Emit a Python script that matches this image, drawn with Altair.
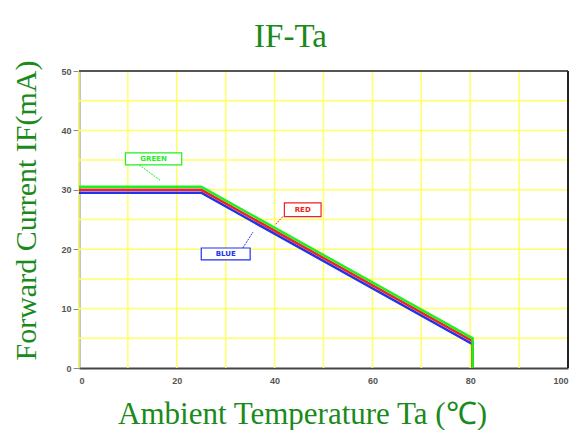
import altair as alt
import pandas as pd

# curve data (Ta in °C, IF in mA)
green_x = [0, 25, 80.5, 80.5]
green_y = [30.5, 30.5, 5.0, 0]
red_x = [0, 25, 80.5, 80.5]
red_y = [30.0, 30.0, 4.5, 0]
blue_x = [0, 25, 80.5, 80.5]
blue_y = [29.5, 29.5, 4.0, 0]

colors = {"GREEN": "#22ee22", "RED": "#ee2222", "BLUE": "#2233ee"}

rows = []
for name, xs_, ys_ in [("BLUE", blue_x, blue_y), ("RED", red_x, red_y), ("GREEN", green_x, green_y)]:
    for i, (a, b) in enumerate(zip(xs_, ys_)):
        rows.append({"series": name, "ta": a, "i": b, "order": i})
df = pd.DataFrame(rows)

# label boxes
lab_name = ["GREEN", "RED", "BLUE"]
lab_x1 = [9.5, 42.0, 25.0]
lab_x2 = [21.0, 49.5, 35.0]
lab_y1 = [34.2, 25.5, 18.2]
lab_y2 = [36.2, 27.8, 20.2]
ptr_x1 = [12.3, 41.7, 33.5]
ptr_y1 = [34.2, 25.5, 20.2]
ptr_x2 = [16.6, 40.2, 35.6]
ptr_y2 = [31.6, 24.2, 22.9]
labels = pd.DataFrame({
    "series": lab_name, "x1": lab_x1, "x2": lab_x2, "y1": lab_y1, "y2": lab_y2,
    "px1": ptr_x1, "py1": ptr_y1, "px2": ptr_x2, "py2": ptr_y2,
})
labels["xc"] = (labels.x1 + labels.x2) / 2
labels["yc"] = (labels.y1 + labels.y2) / 2

cscale = alt.Scale(domain=list(colors.keys()), range=list(colors.values()))

xs = alt.Scale(domain=[0, 100], nice=False)
ys = alt.Scale(domain=[0, 50], nice=False)

xaxis = alt.Axis(
    title="Ambient Temperature Ta (℃)", values=[0, 20, 40, 60, 80, 100],
    grid=False, tickSize=0, labelFontSize=9, labelFontWeight="bold", labelColor="#555555",
    titleFont="Liberation Serif", titleFontSize=31, titleFontWeight="normal", titleColor="#1a8a1a",
    titleX=223, titleY=55, titleAlign="center", titleBaseline="alphabetic",
    domainColor="#444444", domainWidth=2, labelPadding=8,
)
yaxis = alt.Axis(
    title="Forward Current IF(mA)", values=[0, 10, 20, 30, 40, 50],
    grid=False, tickSize=6, tickColor="#888888", labelFontSize=9, labelFontWeight="bold",
    labelColor="#555555", titleFont="Liberation Serif", titleFontSize=30,
    titleFontWeight="normal", titleColor="#1a8a1a",
    titleX=-44, titleY=139, titleAlign="center", titleBaseline="alphabetic",
    domainColor="#888888", domainWidth=2,
)

grid_x = pd.DataFrame({"v": [0, 10, 20, 30, 40, 50, 60, 70, 80, 90]})
grid_y = pd.DataFrame({"v": [5, 10, 15, 20, 25, 30, 35, 40, 45]})

gx = alt.Chart(grid_x).mark_rule(color="#ffff66", strokeWidth=1.5).encode(
    x=alt.X("v:Q", scale=xs, axis=xaxis))
gy = alt.Chart(grid_y).mark_rule(color="#ffff66", strokeWidth=1.5).encode(
    y=alt.Y("v:Q", scale=ys, axis=yaxis))

top_border = alt.Chart(pd.DataFrame({"v": [50]})).mark_rule(color="#555555", strokeWidth=2).encode(
    y=alt.Y("v:Q", scale=ys))
right_border = alt.Chart(pd.DataFrame({"v": [100]})).mark_rule(color="#222222", strokeWidth=2).encode(
    x=alt.X("v:Q", scale=xs))

lines = alt.Chart(df).mark_line(strokeWidth=2.5).encode(
    x=alt.X("ta:Q", scale=xs),
    y=alt.Y("i:Q", scale=ys),
    color=alt.Color("series:N", scale=cscale, legend=None),
    detail="series:N",
    order="order:Q",
)

boxes = alt.Chart(labels).mark_rect(fill="white", strokeWidth=1.2).encode(
    x="x1:Q", x2="x2:Q", y="y1:Q", y2="y2:Q",
    stroke=alt.Stroke("series:N", scale=cscale, legend=None),
)
ptrs = alt.Chart(labels).mark_rule(strokeWidth=1, strokeDash=[2, 1]).encode(
    x="px1:Q", y="py1:Q", x2="px2:Q", y2="py2:Q",
    color=alt.Color("series:N", scale=cscale, legend=None),
)
texts = alt.Chart(labels).mark_text(fontSize=7, fontWeight="bold", font="DejaVu Sans").encode(
    x="xc:Q", y="yc:Q", text="series:N",
    color=alt.Color("series:N", scale=cscale, legend=None),
)

chart = alt.layer(gx, gy, top_border, right_border, lines, ptrs, boxes, texts).properties(
    width=489, height=297,
    title=alt.TitleParams("IF-Ta", font="Liberation Serif", fontSize=33, fontWeight="normal",
                          color="#1a8a1a", dx=-33, offset=6),
    padding={"left": 71, "top": 63, "right": 3, "bottom": 62},
    autosize=alt.AutoSizeParams(type="none"),
).configure(background="white").configure_view(stroke=None)

chart.save("out.html", embed_options={"renderer": "svg", "actions": False})
